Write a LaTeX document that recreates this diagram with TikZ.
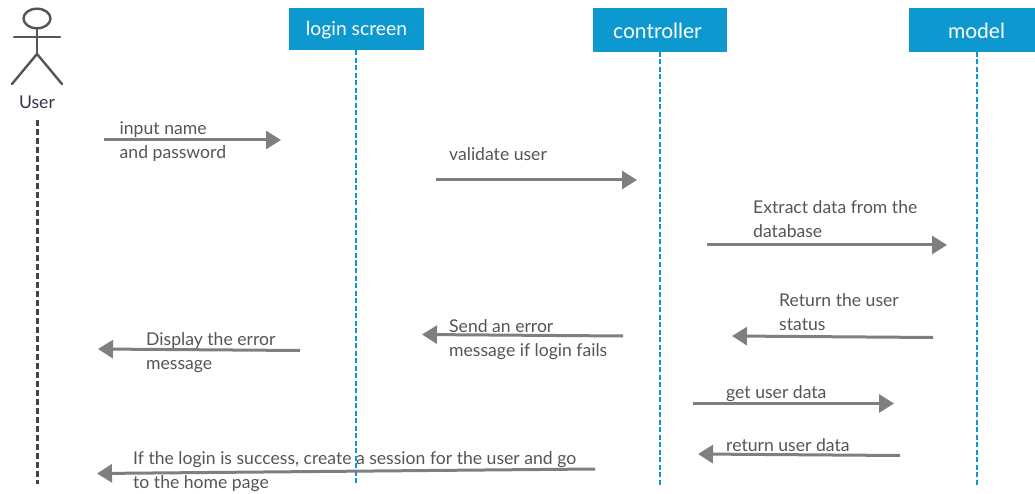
\documentclass[tikz,border=0pt]{standalone}
\usepackage{fontspec}
\setmainfont{Lato}
\usetikzlibrary{arrows.meta}
\definecolor{hdr}{HTML}{0E98D0}
\definecolor{arrowgray}{HTML}{7F7F7F}
\definecolor{txtgray}{HTML}{555555}
\definecolor{actorgray}{HTML}{555555}
\definecolor{usertext}{HTML}{33334A}
\tikzset{
  x=1pt,y=-1pt,
  hdrbox/.style={fill=hdr,minimum width=135pt,minimum height=42pt,inner sep=0pt},
  hdrtext/.style={text=white,inner sep=0pt},
  lifeline/.style={draw=hdr,line width=2.8pt,dash pattern=on 5pt off 2.5pt},
  userline/.style={draw=actorgray!80!black,line width=3pt,dash pattern=on 6pt off 3pt},
  msg/.style={draw=arrowgray,line width=3pt,-{Triangle[length=15pt,width=18pt]}},
  lbl/.style={text=txtgray,anchor=north west,inner sep=0pt,align=left,font=\fontsize{17.6}{24}\selectfont},
  limb/.style={draw=actorgray,line width=2.4pt,line cap=round}
}
\begin{document}
\begin{tikzpicture}
\useasboundingbox (0,0) rectangle (1035,494);
% lifelines
\node[hdrbox] (ls) at (356.5,29.5) {};
\node[hdrbox,minimum width=134pt,minimum height=44pt] (ct) at (659.5,30.5) {};
\node[hdrbox,minimum width=128pt,minimum height=44pt] (md) at (973,30.5) {};
\node[hdrtext,font=\fontsize{19.3}{24}\selectfont] (lsT) at (356.5,30.5) {login screen};
\node[hdrtext,font=\fontsize{21}{24}\selectfont] (ctT) at (657.5,31) {controller};
\node[hdrtext,font=\fontsize{21}{24}\selectfont] (mdT) at (976.5,31) {model};
\coordinate (lsEnd) at (356,484);
\coordinate (ctEnd) at (660,485);
\coordinate (mdEnd) at (977,485);
\coordinate (lsTop) at (356,50.5);
\coordinate (ctTop) at (660,52);
\coordinate (mdTop) at (977,52);
\draw[lifeline] (lsTop) -- (lsEnd);
\draw[lifeline] (ctTop) -- (ctEnd);
\draw[lifeline] (mdTop) -- (mdEnd);
% actor
\coordinate (neck) at (37,28);
\coordinate (hip) at (37,54);
\coordinate (armL) at (14,37);
\coordinate (armR) at (60,37);
\coordinate (legL) at (12,84);
\coordinate (legR) at (62,84);
\draw[limb] (37,18.5) ellipse (13.5pt and 9.8pt);
\draw[limb] (neck) -- (hip);
\draw[limb] (armL) -- (armR);
\draw[limb] (legL) -- (hip) -- (legR);
\node[inner sep=0pt,text=usertext,font=\fontsize{17.6}{20}\selectfont] (user) at (37,102) {User};
\coordinate (uTop) at (37,120);
\coordinate (uEnd) at (37,484);
\draw[userline] (uTop) -- (uEnd);
% messages
\coordinate (a1) at (104,140); \coordinate (b1) at (281,140);
\coordinate (a2) at (436,180); \coordinate (b2) at (637,180);
\coordinate (a3) at (707,245); \coordinate (b3) at (947,245);
\coordinate (a4) at (933,337.5); \coordinate (b4) at (732,336);
\coordinate (a5) at (623,336); \coordinate (b5) at (422,334.5);
\coordinate (a6) at (300,350.5); \coordinate (b6) at (98,349);
\coordinate (a7) at (693,403.5); \coordinate (b7) at (894,403.5);
\coordinate (a8) at (900,455.5); \coordinate (b8) at (698,454);
\coordinate (a9) at (595,469); \coordinate (b9) at (97,473.5);
\foreach \i in {1,...,9} {\draw[msg] (a\i) -- (b\i);}
% labels
\node[lbl] (t1) at (119.5,121.5) {input name\\and password};
\node[lbl] (t2) at (449,147.5) {validate user};
\node[lbl] (t3) at (753,200) {Extract data from the\\database};
\node[lbl] (t4) at (779,293) {Return the user\\status};
\node[lbl] (t5) at (449,319.5) {Send an error\\message if login fails};
\node[lbl] (t6) at (146,332.5) {Display the error\\message};
\node[lbl] (t7) at (726,385.5) {get user data};
\node[lbl] (t8) at (726,438.5) {return user data};
\node[lbl] (t9) at (133,451.5) {If the login is success, create a session for the user and go\\to the home page};
\end{tikzpicture}
\end{document}
